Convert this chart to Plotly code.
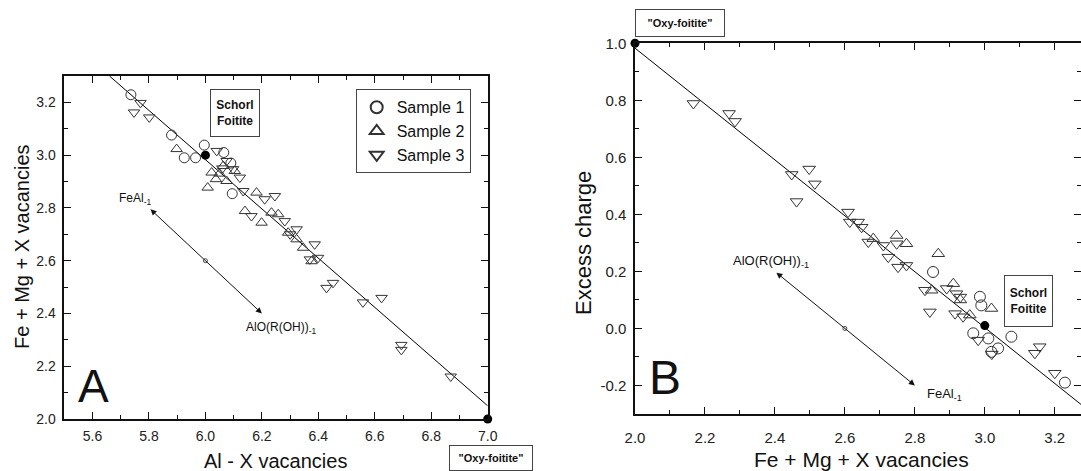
import plotly.graph_objects as go

W, H = 1081, 471

# ---------------- Panel A data ----------------
a_s1_x = [5.736, 5.880, 5.925, 5.965, 5.996, 6.065, 6.095, 6.090]
a_s1_y = [3.229, 3.076, 2.990, 2.990, 3.038, 3.010, 2.854, 2.970]

a_s2_x = [5.898, 6.008, 6.022, 6.037, 6.063, 6.075, 6.104, 6.140, 6.181, 6.199,
          6.234, 6.258, 6.293, 6.323, 6.346, 6.376, 6.050]
a_s2_y = [3.023, 2.877, 2.934, 2.909, 2.959, 2.902, 2.940, 2.788, 2.858, 2.744,
          2.782, 2.776, 2.706, 2.681, 2.649, 2.598, 2.930]

a_s3_x = [5.747, 5.770, 5.801, 6.040, 6.075, 6.098, 6.122, 6.134, 6.163, 6.210,
          6.246, 6.281, 6.323, 6.387, 6.399, 6.370, 6.429, 6.452, 6.558, 6.624,
          6.694, 6.694, 6.869, 6.060, 6.300]
a_s3_y = [3.162, 3.198, 3.143, 3.016, 2.978, 2.947, 2.915, 2.864, 2.769, 2.833,
          2.845, 2.750, 2.719, 2.662, 2.611, 2.605, 2.497, 2.516, 2.442, 2.459,
          2.281, 2.262, 2.161, 2.950, 2.700]

a_line_x = [5.66, 7.00]
a_line_y = [3.30, 2.05]
a_end_x = [6.0, 7.0]          # Schorl/Foitite and "Oxy-foitite" end-members
a_end_y = [3.0, 2.0]
a_vec_mid = (6.0, 2.6)
a_vec_start = (5.8, 2.8)
a_vec_end = (6.2, 2.4)

a_xticks = [5.6, 5.8, 6.0, 6.2, 6.4, 6.6, 6.8, 7.0]
a_xtext = ["5.6", "5.8", "6.0", "6.2", "6.4", "6.6", "6.8", "7.0"]
a_yticks = [2.0, 2.2, 2.4, 2.6, 2.8, 3.0, 3.2]
a_ytext = ["2.0", "2.2", "2.4", "2.6", "2.8", "3.0", "3.2"]

# ---------------- Panel B data ----------------
b_s1_x = [2.852, 2.986, 2.990, 2.967, 3.010, 3.019, 3.038, 3.076, 3.229]
b_s1_y = [0.198, 0.111, 0.081, -0.017, -0.035, -0.082, -0.070, -0.029, -0.190]

b_s2_x = [2.681, 2.748, 2.776, 2.867, 2.848, 2.910, 2.957, 3.019, 2.930]
b_s2_y = [0.315, 0.326, 0.297, 0.262, 0.134, 0.157, 0.047, 0.070, 0.100]

b_s3_x = [2.167, 2.269, 2.286, 2.448, 2.462, 2.498, 2.514, 2.609, 2.614, 2.638,
          2.648, 2.667, 2.710, 2.724, 2.748, 2.752, 2.776, 2.829, 2.843, 2.891,
          2.919, 2.930, 2.915, 2.938, 2.981, 3.020, 3.143, 3.157, 3.200]
b_s3_y = [0.789, 0.754, 0.726, 0.540, 0.445, 0.559, 0.507, 0.408, 0.373, 0.373,
          0.355, 0.303, 0.291, 0.250, 0.297, 0.215, 0.221, 0.134, 0.058, 0.140,
          0.122, 0.110, 0.052, 0.041, -0.041, -0.090, -0.087, -0.064, -0.157]

b_line_x = [2.0, 3.3]
b_line_y = [0.983, -0.291]
b_end_x = [2.0, 3.0]
b_end_y = [1.0, 0.01]
b_vec_mid = (2.6, 0.0)
b_vec_start = (2.4, 0.2)
b_vec_end = (2.8, -0.2)

b_xticks = [2.0, 2.2, 2.4, 2.6, 2.8, 3.0, 3.2]
b_xtext = ["2.0", "2.2", "2.4", "2.6", "2.8", "3.0", "3.2"]
b_yticks = [-0.2, 0.0, 0.2, 0.4, 0.6, 0.8, 1.0]
b_ytext = ["-0.2", "0.0", "0.2", "0.4", "0.6", "0.8", "1.0"]

FONT = "Arial, Liberation Sans, sans-serif"
MK = "#333333"

fig = go.Figure()

def add_samples(xs, ys, xa, ya, sz, legend):
    specs = [("Sample 1", "circle-open"), ("Sample 2", "triangle-up-open"),
             ("Sample 3", "triangle-down-open")]
    for (name, sym), x, y in zip(specs, xs, ys):
        fig.add_trace(go.Scatter(
            x=x, y=y, mode="markers", name=name, xaxis=xa, yaxis=ya,
            showlegend=legend,
            marker=dict(symbol=sym, size=sz, color=MK, line=dict(width=1, color=MK)),
        ))

# Panel A
fig.add_trace(go.Scatter(x=a_line_x, y=a_line_y, mode="lines", xaxis="x", yaxis="y",
                         line=dict(color="black", width=1), showlegend=False))
add_samples([a_s1_x, a_s2_x, a_s3_x], [a_s1_y, a_s2_y, a_s3_y], "x", "y", 10, True)
fig.add_trace(go.Scatter(x=a_end_x, y=a_end_y, mode="markers", xaxis="x", yaxis="y",
                         marker=dict(size=9, color="black"), showlegend=False, cliponaxis=False))
fig.add_trace(go.Scatter(x=[a_vec_mid[0]], y=[a_vec_mid[1]], mode="markers", xaxis="x", yaxis="y",
                         marker=dict(symbol="circle-open", size=4, color="#444", line=dict(width=1)),
                         showlegend=False))

# Panel B
fig.add_trace(go.Scatter(x=b_line_x, y=b_line_y, mode="lines", xaxis="x2", yaxis="y2",
                         line=dict(color="black", width=1), showlegend=False))
add_samples([b_s1_x, b_s2_x, b_s3_x], [b_s1_y, b_s2_y, b_s3_y], "x2", "y2", 11, False)
fig.add_trace(go.Scatter(x=b_end_x, y=b_end_y, mode="markers", xaxis="x2", yaxis="y2",
                         marker=dict(size=9, color="black"), showlegend=False, cliponaxis=False))
fig.add_trace(go.Scatter(x=[b_vec_mid[0]], y=[b_vec_mid[1]], mode="markers", xaxis="x2", yaxis="y2",
                         marker=dict(symbol="circle-open", size=4, color="#444", line=dict(width=1)),
                         showlegend=False))

def axis(domain, rng, tv, tt, fs, standoff=4):
    return dict(
        domain=domain, range=rng, tickvals=tv, ticktext=tt,
        showgrid=False, zeroline=False, showline=True, linecolor="#111", linewidth=1.5,
        mirror="ticks", ticks="inside", ticklen=7, tickwidth=1.2, tickcolor="#111",
        minor=dict(ticks="inside", ticklen=4, tickwidth=1, tickcolor="#111", dtick=0.1),
        tickfont=dict(family=FONT, size=fs, color="#222"),
        ticklabelstandoff=standoff, automargin=False,
    )

ax_a = axis([64.3 / W, 487.7 / W], [5.5, 7.0], a_xticks, a_xtext, 14, 3)
ay_a = axis([1 - 419 / H, 1 - 76 / H], [2.0, 3.3], a_yticks, a_ytext, 14, 4)
ax_b = axis([635 / W, 1.0], [2.0, 3.275], b_xticks, b_xtext, 15, 9)
ay_b = axis([1 - 414 / H, 1 - 43.3 / H], [-0.3, 1.0], b_yticks, b_ytext, 15, 4)
ax_a["minor"]["tick0"] = 5.5
ay_a["minor"]["tick0"] = 2.0
ax_b["minor"]["tick0"] = 2.0
ay_b["minor"]["tick0"] = -0.3

ay_a["anchor"] = "x"
ax_a["anchor"] = "y"
ax_b["anchor"] = "y2"
ay_b["anchor"] = "x2"

annotations = []

def txt(x, y, text, size, xref="paper", yref="paper", **kw):
    d = dict(x=x, y=y, xref=xref, yref=yref, text=text, showarrow=False,
             xanchor="center", yanchor="middle",
             font=dict(family=FONT, size=size, color="#111"))
    d.update(kw)
    annotations.append(d)

# Axis titles
txt(275 / W, 1 - 461 / H, "Al - X vacancies", 20)
txt(22 / W, 1 - 247 / H, "Fe + Mg + X vacancies", 20, textangle=-90)
txt(861 / W, 1 - 459 / H, "Fe + Mg + X vacancies", 21)
txt(583 / W, 1 - 243 / H, "Excess charge", 22, textangle=-90)

# Panel letters
txt(93 / W, 1 - 386 / H, "A", 46)
txt(665 / W, 1 - 377 / H, "B", 48)

# Boxes
box = dict(bordercolor="#444", borderwidth=1, bgcolor="white")
txt(6.103, 3.161, "<b>Schorl</b><br><b>Foitite</b>", 12, xref="x", yref="y",
    width=46, height=44, **box)
txt(3.124, 0.098, "<b>Schorl</b><br><b>Foitite</b>", 12, xref="x2", yref="y2",
    width=45, height=48, **box)
txt(491 / W, 1 - 457.5 / H, "<b>\"Oxy-foitite\"</b>", 11, width=80, height=22, **box)
txt(680.3 / W, 1 - 23.3 / H, "<b>\"Oxy-foitite\"</b>", 11, width=86, height=24, **box)

# Exchange vector labels
txt(5.75, 2.835, "FeAl<sub>-1</sub>", 12, xref="x", yref="y")
txt(6.267, 2.346, "AlO(R(OH))<sub>-1</sub>", 12, xref="x", yref="y")
txt(2.39, 0.235, "AlO(R(OH))<sub>-1</sub>", 13, xref="x2", yref="y2")
txt(2.885, -0.232, "FeAl<sub>-1</sub>", 13, xref="x2", yref="y2")

# Double-headed exchange vectors
for (s, e, xr, yr) in [(a_vec_start, a_vec_end, "x", "y"), (b_vec_start, b_vec_end, "x2", "y2")]:
    annotations.append(dict(
        x=e[0], y=e[1], ax=s[0], ay=s[1], xref=xr, yref=yr, axref=xr, ayref=yr,
        text="", showarrow=True, arrowhead=2, startarrowhead=2, arrowside="end+start",
        arrowsize=1.2, startarrowsize=1.2, arrowwidth=1, arrowcolor="#111",
    ))

fig.update_layout(
    width=W, height=H, autosize=False,
    margin=dict(l=0, r=0, t=0, b=0),
    paper_bgcolor="white", plot_bgcolor="white",
    xaxis=ax_a, yaxis=ay_a, xaxis2=ax_b, yaxis2=ay_b,
    annotations=annotations,
    legend=dict(x=355.7 / W, y=1 - 89.3 / H, xanchor="left", yanchor="top",
                bordercolor="#444", borderwidth=1, bgcolor="white",
                font=dict(family=FONT, size=16, color="#111"),
                itemsizing="constant", tracegroupgap=0),
    font=dict(family=FONT),
)

fig.write_html(
    "out.html",
    config={"displayModeBar": False},
    post_script="document.body.style.margin='0';document.body.style.overflow='hidden';",
)
